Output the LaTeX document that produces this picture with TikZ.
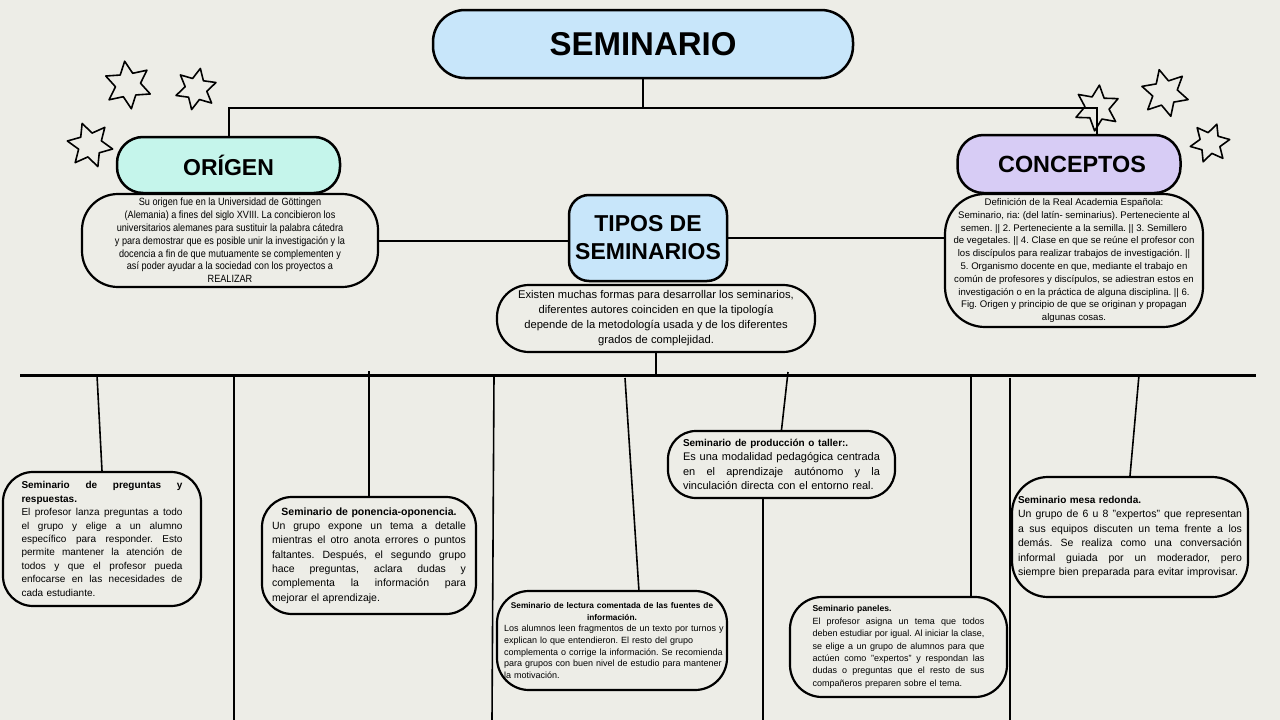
\documentclass[tikz,border=0pt]{standalone}
\usepackage{fontspec}
\setmainfont{Liberation Sans}
\newfontfamily\condfont[FakeStretch=0.87]{Liberation Sans}
\usetikzlibrary{shapes.geometric}
\definecolor{bgc}{HTML}{EDEDE7}
\definecolor{skyc}{HTML}{C8E6FA}
\definecolor{mintc}{HTML}{C5F5EB}
\definecolor{lavc}{HTML}{D7CCF5}
\newlength{\jw}
\newcommand{\jl}[1]{\leavevmode\hbox to \jw{\spaceskip=0pt\xspaceskip=0pt #1}}
\newcommand{\cl}[1]{\leavevmode\hbox to \jw{\hfil#1\hfil}}
\newcommand{\lline}[1]{\leavevmode\hbox to \jw{#1\hfil}}
\newcommand{\fs}[2]{\fontsize{#1}{#2}\selectfont}
\frenchspacing
\begin{document}
\begin{tikzpicture}[x=1pt,y=-1pt,
  hdr/.style={draw=black, line width=2.5pt, inner sep=0pt, align=center, text=black},
  tbox/.style={draw=black, line width=2.2pt, fill=bgc, inner sep=0pt, align=left,
    text width=#1, execute at begin node={\parindent=0pt\frenchspacing\setlength{\jw}{#1}}},
  cbox/.style={draw=black, line width=2.2pt, fill=bgc, inner sep=0pt, align=center,
    execute at begin node={\frenchspacing}},
  conn/.style={line width=2pt},
  busline/.style={line width=3pt},
  drop/.style={line width=1.6pt},
  deco/.style={star, star points=6, star point ratio=1.9, draw=black, line width=1.6pt,
    line join=round, inner sep=0pt}]
\fill[bgc] (0,0) rectangle (1280,720);
\useasboundingbox (0,0) rectangle (1280,720);

% ---- text boxes under headers
\node[cbox, rounded corners=36pt, minimum width=296pt, minimum height=93pt,
  font=\condfont\fs{10.5}{12.8}] (origTxt) at (230,240.5)
  {Su origen fue en la Universidad de Göttingen\\
   (Alemania) a fines del siglo XVIII. La concibieron los\\
   universitarios alemanes para sustituir la palabra cátedra\\
   y para demostrar que es posible unir la investigación y la\\
   docencia a fin de que mutuamente se complementen y\\
   así poder ayudar a la sociedad con los proyectos a\\
   REALIZAR};

\node[cbox, rounded corners=40pt, minimum width=258pt, minimum height=133pt,
  font=\fs{9.6}{12.8}] (concTxt) at (1074,260.5)
  {Definición de la Real Academia Española:\\
   Seminario, ria: (del latín- seminarius). Perteneciente al\\
   semen. || 2. Perteneciente a la semilla. || 3. Semillero\\
   de vegetales. || 4. Clase en que se reúne el profesor con\\
   los discípulos para realizar trabajos de investigación. ||\\
   5. Organismo docente en que, mediante el trabajo en\\
   común de profesores y discípulos, se adiestran estos en\\
   investigación o en la práctica de alguna disciplina. || 6.\\
   Fig. Origen y principio de que se originan y propagan\\
   algunas cosas.};

\node[cbox, rounded corners=32pt, minimum width=318pt, minimum height=67pt,
  font=\fs{11.2}{15}] (tiposTxt) at (656,318.5)
  {Existen muchas formas para desarrollar los seminarios,\\
   diferentes autores coinciden en que la tipología\\
   depende de la metodología usada y de los diferentes\\
   grados de complejidad.};

% ---- headers
\node[hdr, fill=skyc, rounded corners=32pt, minimum width=420pt, minimum height=68pt,
  font=\fs{33}{36}\bfseries] (sem) at (643,44) {SEMINARIO};
\node[hdr, fill=mintc, rounded corners=26pt, minimum width=223pt, minimum height=56pt,
  font=\fs{23}{26}\bfseries] (orig) at (228.5,165) {ORÍGEN};
\node[hdr, fill=lavc, rounded corners=26pt, minimum width=223pt, minimum height=58pt,
  font=\fs{23.4}{26}\bfseries] (conc) at (1069,164) {\hspace*{6pt}CONCEPTOS};
\node[hdr, fill=skyc, rounded corners=20pt, minimum width=158pt, minimum height=86pt,
  font=\fs{23}{28}\bfseries] (tipos) at (648,238) {TIPOS DE\\SEMINARIOS};

% ---- lower boxes
\node[tbox=161pt, rounded corners=30pt, minimum width=198pt, minimum height=134pt,
  font=\fs{10}{13.4}] (preg) at (102,539) {%
  \jl{\bfseries Seminario de preguntas y}\\
  \lline{\bfseries respuestas.}\\
  \jl{El profesor lanza preguntas a todo}\\
  \jl{el grupo y elige a un alumno}\\
  \jl{específico para responder. Esto}\\
  \jl{permite mantener la atención de}\\
  \jl{todos y que el profesor pueda}\\
  \jl{enfocarse en las necesidades de}\\
  \lline{cada estudiante.}};

\node[tbox=194pt, rounded corners=30pt, minimum width=214pt, minimum height=117pt,
  font=\fs{10.5}{14.3}] (pon) at (369,555.5) {%
  \cl{\bfseries Seminario de ponencia-oponencia.}\\
  \jl{Un grupo expone un tema a detalle}\\
  \jl{mientras el otro anota errores o puntos}\\
  \jl{faltantes. Después, el segundo grupo}\\
  \jl{hace preguntas, aclara dudas y}\\
  \jl{complementa la información para}\\
  \lline{mejorar el aprendizaje.}};

\node[tbox=216pt, rounded corners=32pt, minimum width=230pt, minimum height=99pt,
  font=\fs{9}{11.6}] (lect) at (612,640.5) {%
  \cl{\fs{8.3}{11.6}\bfseries Seminario de lectura comentada de las fuentes de}\\
  \cl{\fs{8.3}{11.6}\bfseries información.}\\
  \lline{Los alumnos leen fragmentos de un texto por turnos y}\\
  \lline{explican lo que entendieron. El resto del grupo}\\
  \lline{complementa o corrige la información. Se recomienda}\\
  \lline{para grupos con buen nivel de estudio para mantener}\\
  \lline{la motivación.}};

\node[tbox=197pt, rounded corners=28pt, minimum width=227pt, minimum height=67pt,
  font=\fs{11}{14.5}] (prod) at (781.5,464.5) {%
  \lline{\fs{10}{14.5}\bfseries Seminario de producción o taller:.}\\
  \jl{Es una modalidad pedagógica centrada}\\
  \jl{en el aprendizaje autónomo y la}\\
  \lline{vinculación directa con el entorno real.}};

\node[tbox=172pt, rounded corners=32pt, minimum width=217pt, minimum height=100pt,
  font=\fs{9}{12.4}] (pan) at (898.5,647) {%
  \lline{\fs{8.6}{12.4}\bfseries Seminario paneles.}\\
  \jl{El profesor asigna un tema que todos}\\
  \jl{deben estudiar por igual. Al iniciar la clase,}\\
  \jl{se elige a un grupo de alumnos para que}\\
  \jl{actúen como "expertos" y respondan las}\\
  \jl{dudas o preguntas que el resto de sus}\\
  \lline{compañeros preparen sobre el tema.}};

\node[tbox=224pt, rounded corners=36pt, minimum width=236pt, minimum height=120pt,
  font=\fs{10.5}{14.5}] (mesa) at (1130,537) {%
  \lline{\fs{10}{14.5}\bfseries Seminario mesa redonda.}\\
  \jl{Un grupo de 6 u 8 "expertos" que representan}\\
  \jl{a sus equipos discuten un tema frente a los}\\
  \jl{demás. Se realiza como una conversación}\\
  \jl{informal guiada por un moderador, pero}\\
  \lline{siempre bien preparada para evitar improvisar.}};

% ---- connectors top
\coordinate (topR) at (1097,108);
\draw[conn] (sem.south) -- (sem.south |- topR);
\draw[conn] (orig.north) |- (topR) -- (conc.north -| topR);
\draw[conn] (origTxt.east) -- (origTxt.east -| tipos.west);
\draw[conn] (tipos.east) -- (tipos.east -| concTxt.west);

% ---- bus
\coordinate (busL) at (20,375);
\coordinate (busR) at (1256,375);
\draw[busline] (busL) -- (busR);
\draw[conn] (tiposTxt.south) -- (tiposTxt.south |- busL);

\coordinate (d1) at (97,375);
\coordinate (d2) at (234,375);
\coordinate (d2b) at (234,720);
\coordinate (d3) at (369,371);
\coordinate (d4) at (494,375);
\coordinate (d4b) at (492,720);
\coordinate (d5) at (625,378);
\coordinate (d6) at (788,372);
\coordinate (d7) at (763,720);
\coordinate (d8) at (971,375);
\coordinate (d9) at (1010,378);
\coordinate (d9b) at (1010,720);
\coordinate (d10) at (1139,375);
\draw[drop] (d1) -- (preg.north);
\draw[drop] (d2) -- (d2b);
\draw[drop] (d3) -- (pon.north);
\draw[drop] (d4) -- (d4b);
\draw[drop] (d5) -- (lect.62);
\draw[drop] (d6) -- (prod.north);
\draw[drop] (prod.south -| d7) -- (d7);
\draw[drop] (d8) -- (pan.north -| d8);
\draw[drop] (d9) -- (d9b);
\draw[drop] (d10) -- (mesa.north);

% ---- stars
\node[deco, minimum size=48pt, rotate=8] (s1) at (128,85) {};
\node[deco, minimum size=42pt, rotate=-12] (s2) at (196,89) {};
\node[deco, minimum size=46pt, rotate=20] (s3) at (90,145) {};
\node[deco, minimum size=46pt, rotate=-6] (s4) at (1097,108) {};
\node[deco, minimum size=48pt, rotate=14] (s5) at (1165,93) {};
\node[deco, minimum size=40pt, rotate=-20] (s6) at (1210,143) {};
\end{tikzpicture}
\end{document}
